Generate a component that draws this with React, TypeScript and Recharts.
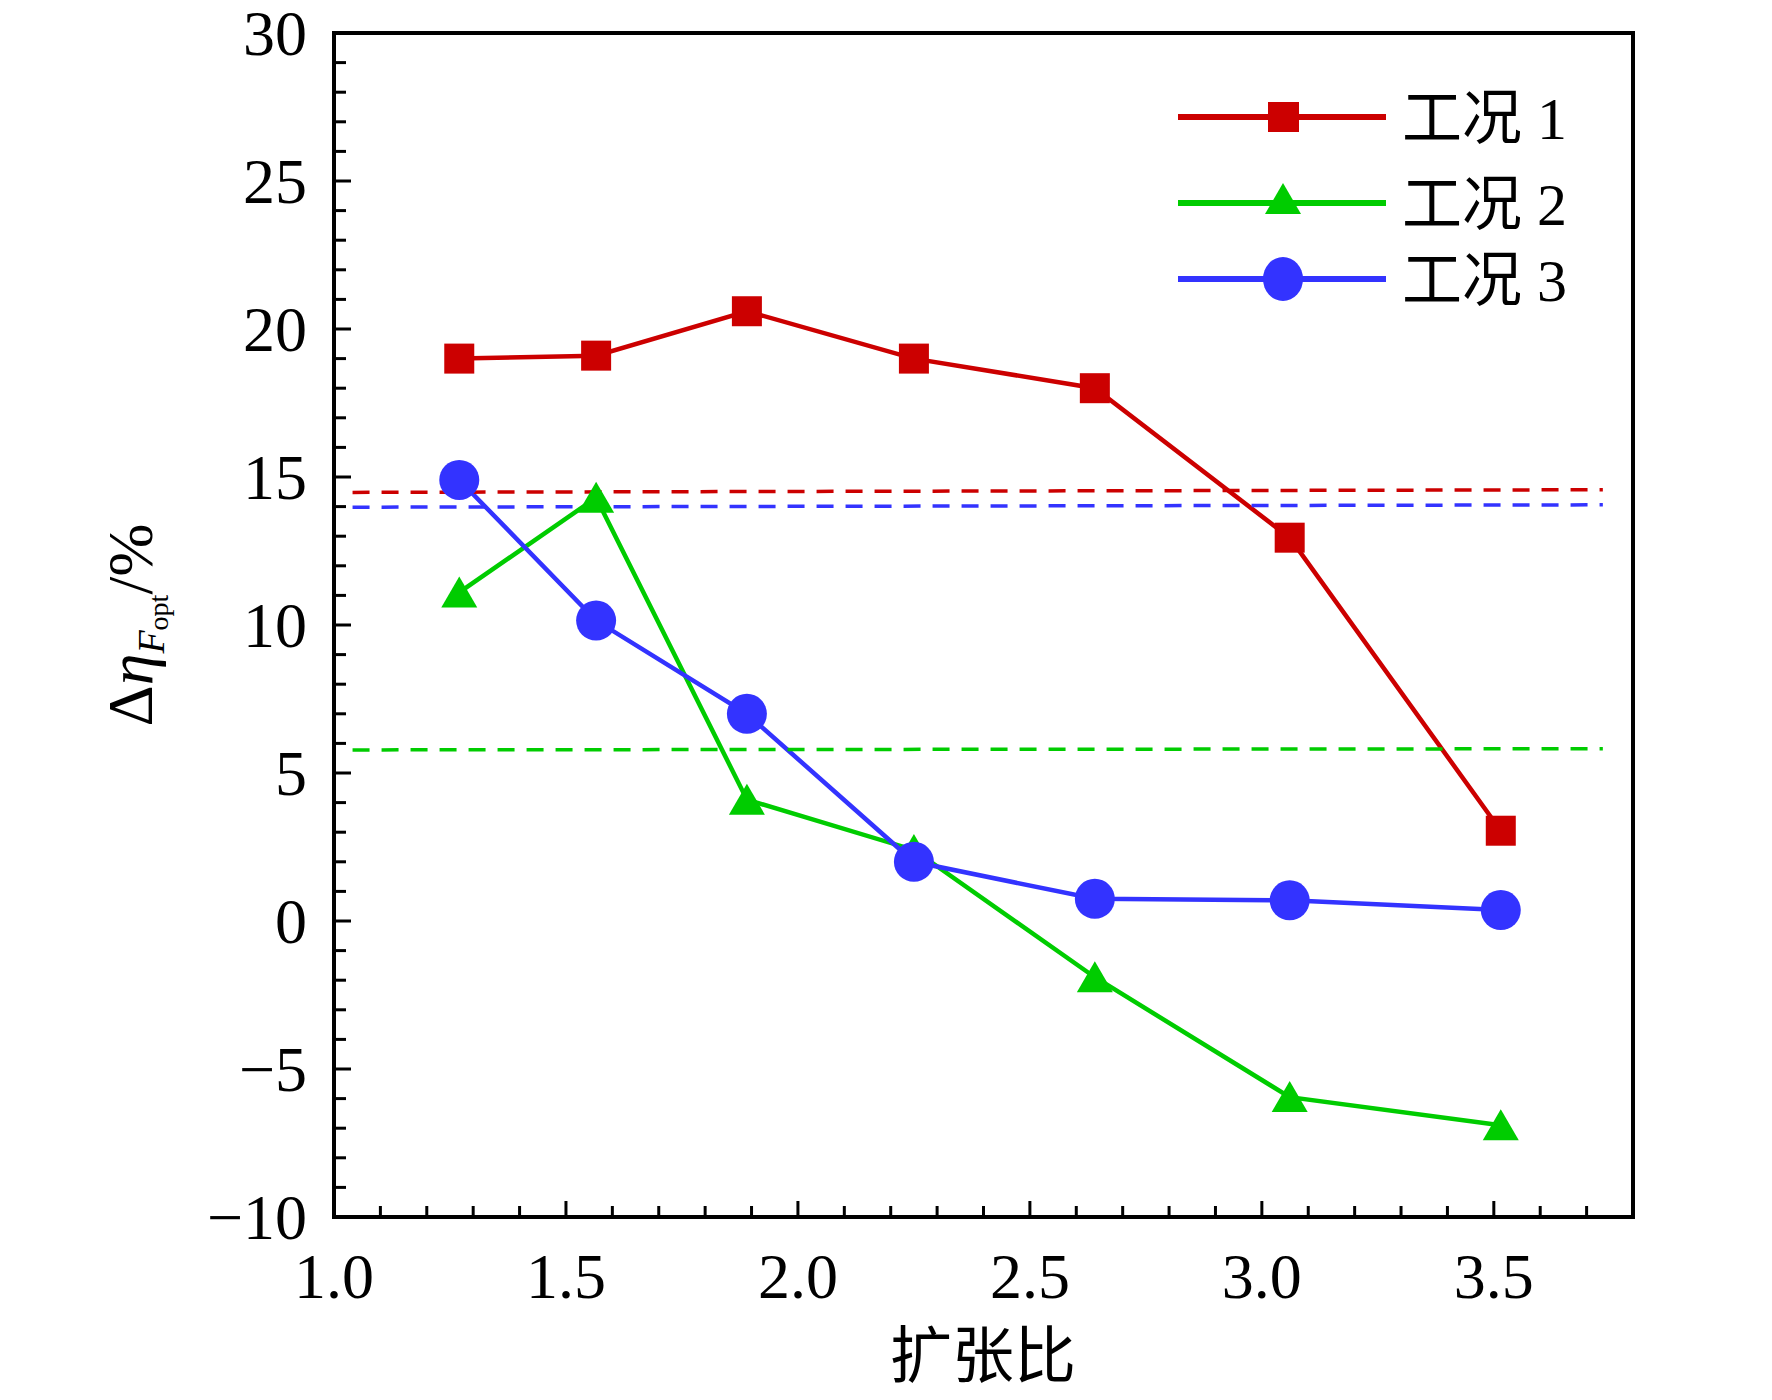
import { LineChart, Line, XAxis, YAxis, ReferenceArea } from 'recharts'

// expansion ratio (x) and Δη for the three operating cases
const ratio = [1.27, 1.565, 1.89, 2.25, 2.64, 3.06, 3.515]
const case1 = [19.0, 19.1, 20.6, 19.0, 18.0, 12.95, 3.05]
const case2 = [11.1, 14.3, 4.1, 2.4, -1.9, -5.95, -6.9]
const case3 = [14.9, 10.15, 7.0, 2.0, 0.75, 0.7, 0.37]

// dashed average lines: [start, end] levels over avgSpan
const avgSpan = [1.04, 3.735]
const avg1 = [14.48, 14.57]
const avg2 = [5.78, 5.82]
const avg3 = [13.98, 14.06]

const xTicks = [1.0, 1.1, 1.2, 1.3, 1.4, 1.5, 1.6, 1.7, 1.8, 1.9, 2.0, 2.1, 2.2, 2.3, 2.4, 2.5, 2.6, 2.7, 2.8, 2.9, 3.0, 3.1, 3.2, 3.3, 3.4, 3.5, 3.6, 3.7, 3.8]
const yTicks = [-10, -9, -8, -7, -6, -5, -4, -3, -2, -1, 0, 1, 2, 3, 4, 5, 6, 7, 8, 9, 10, 11, 12, 13, 14, 15, 16, 17, 18, 19, 20, 21, 22, 23, 24, 25, 26, 27, 28, 29, 30]

const seriesNames = ['工况 1', '工况 2', '工况 3']
const colors = ['#cc0000', '#00cc00', '#3333ff']

const rows = ratio.map((r, i) => ({ ratio: r, c1: case1[i], c2: case2[i], c3: case3[i] }))
const avgRows = (lv: number[]) => avgSpan.map((r, i) => ({ ratio: r, avg: lv[i] }))

const W = 1756
const H = 1384
const SERIF = "'Liberation Serif', 'Times New Roman', serif"
const CJK = "'Liberation Serif', 'Noto Sans CJK SC', sans-serif"

function XTick(props: any) {
  const { x, y, payload } = props
  const v = payload.value
  const major = Math.abs(v * 2 - Math.round(v * 2)) < 1e-6
  return (
    <g>
      <line x1={x} x2={x} y1={y} y2={y - (major ? 16 : 11)} stroke="#000" strokeWidth={3} />
      {major && (
        <text x={x} y={y + 81} textAnchor="middle" fontFamily={SERIF} fontSize={64} fill="#000">
          {v.toFixed(1)}
        </text>
      )}
    </g>
  )
}

function YTick(props: any) {
  const { x, y, payload } = props
  const v = payload.value
  const major = v % 5 === 0
  return (
    <g>
      <line x1={x} x2={x + (major ? 17 : 12)} y1={y} y2={y} stroke="#000" strokeWidth={3} />
      {major && (
        <text x={x - 27} y={y} dy="0.34em" textAnchor="end" fontFamily={SERIF} fontSize={64} fill="#000">
          {v < 0 ? '\u2212' + Math.abs(v) : String(v)}
        </text>
      )}
    </g>
  )
}

const square = (p: any) =>
  p.cx == null ? null : <rect key={`s${p.index}`} x={p.cx - 15} y={p.cy - 15} width={30} height={30} fill={colors[0]} />
const triangle = (p: any) =>
  p.cx == null ? null : (
    <polygon
      key={`t${p.index}`}
      points={`${p.cx},${p.cy - 16} ${p.cx + 18},${p.cy + 15} ${p.cx - 18},${p.cy + 15}`}
      fill={colors[1]}
    />
  )
const circle = (p: any) =>
  p.cx == null ? null : <circle key={`c${p.index}`} cx={p.cx} cy={p.cy} r={20} fill={colors[2]} />

function Legend() {
  const ys = [109, 195, 271]
  return (
    <g>
      {seriesNames.map((name, i) => (
        <g key={name}>
          <line x1={1170} x2={1378} y1={ys[i]} y2={ys[i]} stroke={colors[i]} strokeWidth={6} />
          {i === 0 && <rect x={1275 - 15} y={ys[i] - 15} width={31} height={30} fill={colors[0]} />}
          {i === 1 && (
            <polygon points={`1275,${ys[i] - 20} 1293,${ys[i] + 11} 1257,${ys[i] + 11}`} fill={colors[1]} />
          )}
          {i === 2 && <ellipse cx={1275} cy={ys[i]} rx={20} ry={22} fill={colors[2]} />}
          <text x={1394} y={ys[i]} dy="0.36em" fontFamily={CJK} fontSize={60} fill="#000">
            {name}
          </text>
        </g>
      ))}
    </g>
  )
}

export default function App() {
  return (
    <div style={{ position: 'relative', width: W, height: H, background: '#fff' }}>
      <style>{'svg { overflow: visible; }'}</style>
      <LineChart width={W} height={H} data={rows} margin={{ top: 25, right: 131, bottom: 75, left: 226 }}>
        <XAxis
          dataKey="ratio"
          type="number"
          domain={[1, 3.8]}
          ticks={xTicks}
          interval={0}
          allowDataOverflow
          height={100}
          tickSize={0}
          tickMargin={0}
          tickLine={false}
          tick={<XTick />}
          axisLine={{ stroke: '#000', strokeWidth: 4 }}
        />
        <YAxis
          type="number"
          domain={[-10, 30]}
          ticks={yTicks}
          interval={0}
          allowDataOverflow
          width={100}
          tickSize={0}
          tickMargin={0}
          tickLine={false}
          tick={<YTick />}
          axisLine={{ stroke: '#000', strokeWidth: 4 }}
        />
        <ReferenceArea x1={1} x2={3.8} y1={-10} y2={30} fill="none" stroke="#000" strokeWidth={4} fillOpacity={0} />
        <Line dataKey="c2" stroke={colors[1]} strokeWidth={4.5} dot={triangle} activeDot={false} isAnimationActive={false} />
        <Line dataKey="c3" stroke={colors[2]} strokeWidth={4.5} dot={circle} activeDot={false} isAnimationActive={false} />
        <Line dataKey="c1" stroke={colors[0]} strokeWidth={4.5} dot={square} activeDot={false} isAnimationActive={false} />
        <Line data={avgRows(avg1)} dataKey="avg" stroke={colors[0]} strokeWidth={3.5} strokeDasharray="17 12" dot={false} activeDot={false} isAnimationActive={false} />
        <Line data={avgRows(avg3)} dataKey="avg" stroke={colors[2]} strokeWidth={3.5} strokeDasharray="17 12" dot={false} activeDot={false} isAnimationActive={false} />
        <Line data={avgRows(avg2)} dataKey="avg" stroke={colors[1]} strokeWidth={3.5} strokeDasharray="17 12" dot={false} activeDot={false} isAnimationActive={false} />
      </LineChart>
      <svg width={W} height={H} style={{ position: 'absolute', left: 0, top: 0, pointerEvents: 'none' }}>
        <Legend />
        <text
          x={144}
          y={617}
          transform="rotate(-90, 144, 617)"
          textAnchor="middle"
          fontFamily={SERIF}
          fontSize={64}
          fill="#000"
        >
          <tspan>Δ</tspan>
          <tspan fontStyle="italic">η</tspan>
          <tspan fontStyle="italic" fontSize={38} dy={12}>F</tspan>
          <tspan fontSize={28} dy={4}>opt</tspan>
          <tspan dy={-16}>/%</tspan>
        </text>
        <text x={975} y={1348} dy="0.36em" textAnchor="middle" fontFamily="'Noto Sans CJK SC', sans-serif" fontSize={62} fill="#000">
          扩张比
        </text>
      </svg>
    </div>
  )
}
